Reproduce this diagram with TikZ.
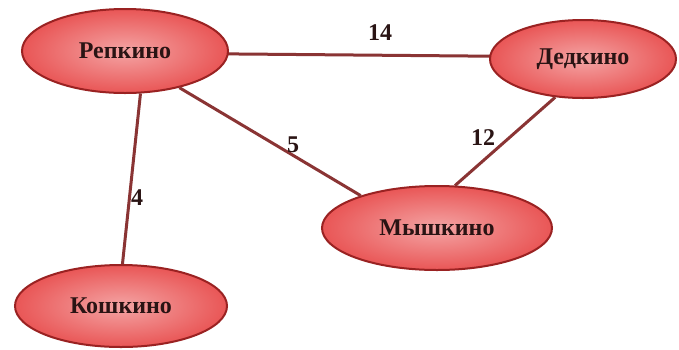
\documentclass[tikz,border=0pt]{standalone}
\usepackage{fontspec}
\setmainfont{Liberation Serif}
\usetikzlibrary{shapes.geometric}
\definecolor{edgecol}{HTML}{8A3434}
\definecolor{bordercol}{HTML}{9A2222}
\definecolor{innercol}{HTML}{F4A4A4}
\definecolor{outercol}{HTML}{E95656}
\definecolor{textcol}{HTML}{2A1414}
\tikzset{
  town/.style={ellipse, draw=bordercol, line width=2pt, inner sep=0pt,
    shading=radial, inner color=innercol, outer color=outercol,
    font=\fontsize{24}{28}\selectfont\bfseries, text=textcol},
  road/.style={draw=edgecol, line width=3pt},
  weight/.style={font=\fontsize{24}{28}\selectfont\bfseries, text=textcol, inner sep=0pt}
}
\begin{document}
\begin{tikzpicture}[x=1pt,y=-1pt]
\useasboundingbox[fill=white] (0,0) rectangle (679,349);
\coordinate (rc) at (125,53);
\coordinate (dc) at (583,57);
\draw[road] (rc) -- (dc);
\node[town, minimum width=206pt, minimum height=84pt] (R) at (125,51) {Репкино};
\node[town, minimum width=186pt, minimum height=78pt] (D) at (583,59) {Дедкино};
\node[town, minimum width=230pt, minimum height=84pt] (M) at (437,228) {Мышкино};
\node[town, minimum width=212pt, minimum height=82pt] (K) at (121,306) {Кошкино};
\draw[road] (R.326) -- (M.157);
\draw[road] (D.234) -- (M.67);
\draw[road] (R.290) -- (K.88);
\node[weight] (w14) at (380,33) {14};
\node[weight] (w5) at (293,145) {5};
\node[weight] (w12) at (483,138) {12};
\node[weight] (w4) at (137,198) {4};
\end{tikzpicture}
\end{document}
